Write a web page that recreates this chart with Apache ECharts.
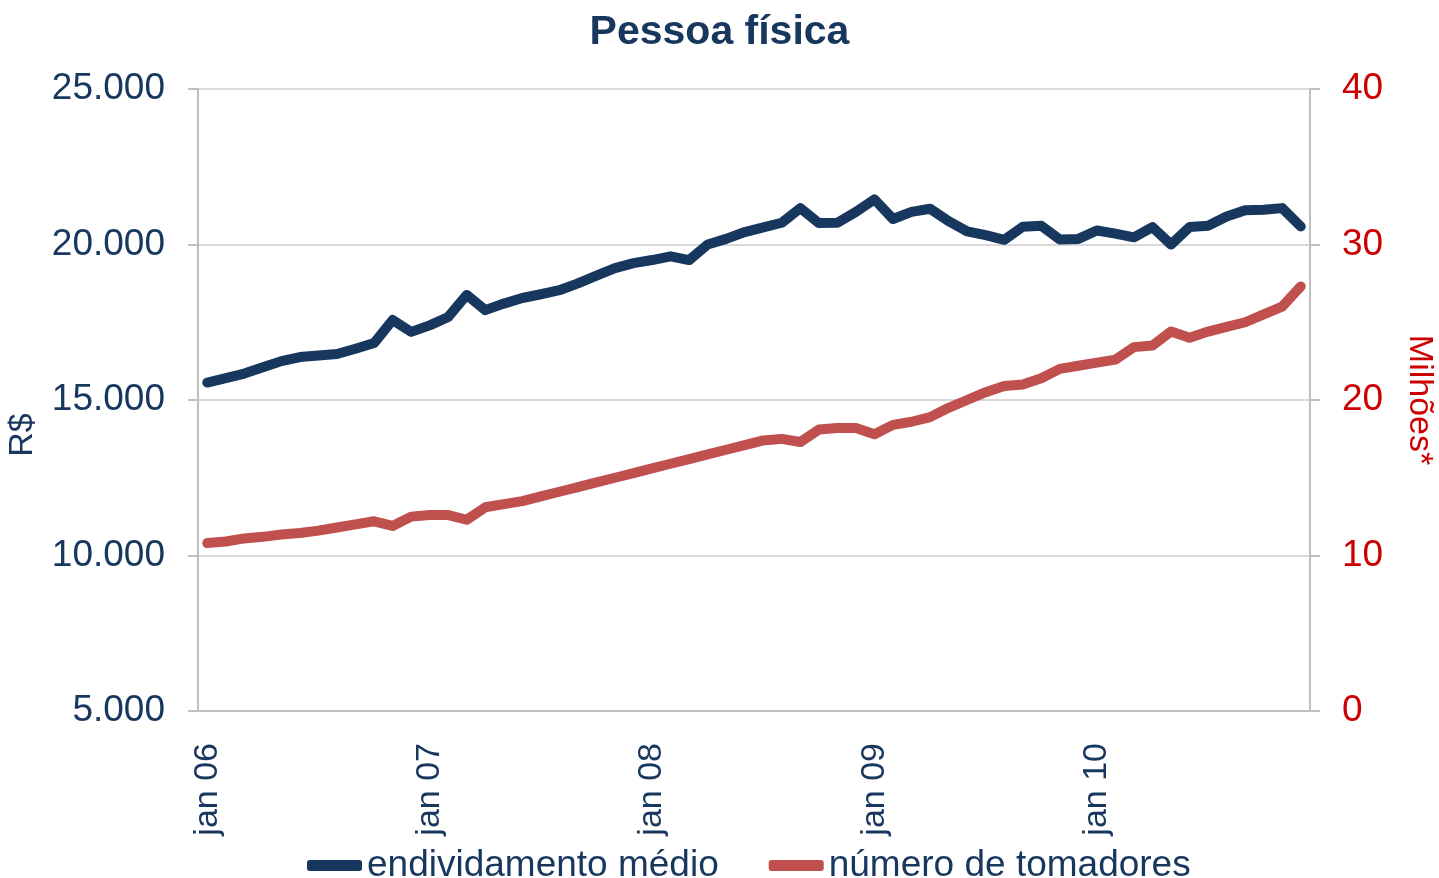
<!DOCTYPE html>
<html>
<head>
<meta charset="utf-8">
<title>Pessoa física</title>
<script src="https://cdn.jsdelivr.net/npm/echarts@6/dist/echarts.min.js"></script>
<style>
  html, body { margin: 0; padding: 0; background: #fff; }
  #chart { width: 1439px; height: 878px; }
</style>
</head>
<body>
<div id="chart"></div>
<script>
// meses jan 06 .. dez 10
const meses = ['jan', 'fev', 'mar', 'abr', 'mai', 'jun', 'jul', 'ago', 'set', 'out', 'nov', 'dez']
const anos = ['06', '07', '08', '09', '10']
const categorias = []
anos.forEach(a => meses.forEach(m => categorias.push(m + ' ' + a)))

// endividamento médio (R$) - eixo esquerdo
const endividamento = [
  15560, 15700, 15850, 16050, 16250, 16380, 16430, 16480, 16650, 16830, 17570, 17190,
  17400, 17670, 18380, 17890, 18100, 18280, 18400, 18530, 18750, 19000, 19240, 19400,
  19500, 19620, 19500, 20000, 20180, 20400, 20550, 20700, 21170, 20690, 20700, 21050,
  21450, 20820, 21050, 21150, 20750, 20420, 20300, 20150, 20570, 20600, 20160, 20180,
  20450, 20350, 20230, 20560, 20000, 20560, 20600, 20900, 21100, 21120, 21170, 20580
]

// número de tomadores (milhões) - eixo direito
const tomadores = [
  10.8, 10.9, 11.1, 11.2, 11.35, 11.45, 11.6, 11.8, 12.0, 12.2, 11.9, 12.5,
  12.6, 12.6, 12.3, 13.1, 13.3, 13.5, 13.8, 14.1, 14.4, 14.7, 15.0, 15.3,
  15.6, 15.9, 16.2, 16.5, 16.8, 17.1, 17.4, 17.5, 17.3, 18.1, 18.2, 18.2,
  17.8, 18.4, 18.6, 18.9, 19.5, 20.0, 20.5, 20.9, 21.0, 21.4, 22.0, 22.2,
  22.4, 22.6, 23.4, 23.5, 24.4, 24.0, 24.4, 24.7, 25.0, 25.5, 26.0, 27.3
]

const NAVY = '#17375E'
const RED = '#C0504D'
const RED_TXT = '#CC0000'
const FONT = '"Liberation Sans", Arial, sans-serif'

const chart = echarts.init(document.getElementById('chart'))

// formato brasileiro 25.000
function fmtMil(v) {
  return String(v).replace(/\B(?=(\d{3})+(?!\d))/g, '.')
}

chart.setOption({
  animation: false,
  textStyle: { fontFamily: FONT },
  title: {
    text: 'Pessoa física',
    left: 'center',
    top: 7,
    textStyle: { fontFamily: FONT, fontSize: 41, fontWeight: 'bold', color: NAVY }
  },
  legend: {
    top: 842,
    left: 302,
    itemWidth: 55,
    itemHeight: 11,
    itemGap: 50,
    icon: 'roundRect',
    textStyle: { fontFamily: FONT, fontSize: 37, color: NAVY },
    data: ['endividamento médio', 'número de tomadores']
  },
  grid: {
    left: 198,
    right: 129,
    top: 89,
    bottom: 167,
    containLabel: false,
    outerBoundsMode: 'none'
  },
  xAxis: {
    type: 'category',
    data: categorias,
    boundaryGap: true,
    axisLine: { lineStyle: { color: '#BFBFBF', width: 2 } },
    axisTick: {
      length: 10,
      lineStyle: { color: '#BFBFBF', width: 2 },
      interval: function (idx) { return idx % 12 === 0 }
    },
    axisLabel: {
      rotate: 90,
      margin: 32,
      fontSize: 34,
      color: NAVY,
      interval: function (idx) { return idx % 12 === 0 }
    }
  },
  yAxis: [
    {
      type: 'value',
      min: 5000,
      max: 25000,
      interval: 5000,
      name: 'R$',
      nameLocation: 'middle',
      nameRotate: 90,
      nameGap: 158,
      nameTextStyle: { fontFamily: FONT, fontSize: 34, color: NAVY, padding: [0, 70, 0, 0] },
      axisLine: { show: true, lineStyle: { color: '#BFBFBF', width: 2 } },
      axisTick: { show: true, length: 10, lineStyle: { color: '#BFBFBF', width: 2 } },
      axisLabel: {
        fontSize: 37,
        color: NAVY,
        margin: 33,
        formatter: fmtMil
      },
      splitLine: { lineStyle: { color: '#D9D9D9', width: 2 } }
    },
    {
      type: 'value',
      min: 0,
      max: 40,
      interval: 10,
      name: 'Milhões*',
      nameLocation: 'middle',
      nameRotate: -90,
      nameGap: 92,
      nameTextStyle: { fontFamily: FONT, fontSize: 34, color: RED_TXT },
      axisLine: { show: true, lineStyle: { color: '#BFBFBF', width: 2 } },
      axisTick: { show: true, length: 10, lineStyle: { color: '#BFBFBF', width: 2 } },
      axisLabel: { fontSize: 37, color: RED_TXT, margin: 32 },
      splitLine: { show: false }
    }
  ],
  series: [
    {
      name: 'endividamento médio',
      type: 'line',
      yAxisIndex: 0,
      data: endividamento,
      symbol: 'none',
      color: NAVY,
      lineStyle: { width: 10, color: NAVY, join: 'round', cap: 'round' }
    },
    {
      name: 'número de tomadores',
      type: 'line',
      yAxisIndex: 1,
      data: tomadores,
      symbol: 'none',
      color: RED,
      lineStyle: { width: 10, color: RED, join: 'round', cap: 'round' }
    }
  ]
})
</script>
</body>
</html>
